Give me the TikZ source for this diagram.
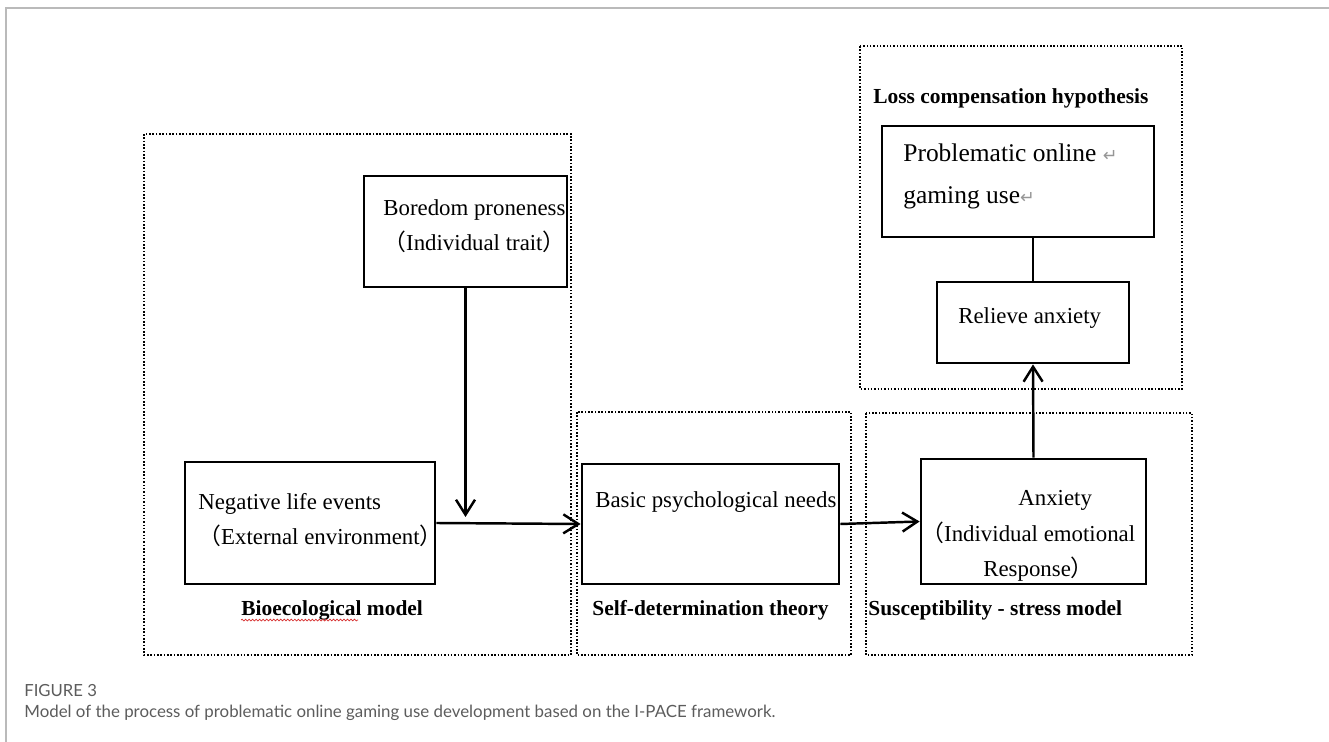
\documentclass[tikz,border=0pt]{standalone}
\usepackage{fontspec}
\setmainfont{Liberation Serif}
\newfontfamily\capfont{Lato}
\newfontfamily\cjkfont{Noto Sans CJK SC}
\newfontfamily\symfont{DejaVu Sans}
\usetikzlibrary{arrows.meta,decorations.pathmorphing}
\definecolor{FrameGray}{RGB}{186,186,186}
\definecolor{CapGray}{RGB}{92,92,92}
\definecolor{MarkGray}{RGB}{150,150,150}
\definecolor{SpellRed}{RGB}{214,48,48}
\newcommand{\fwl}{{\cjkfont （}}
\newcommand{\fwr}{{\cjkfont ）}}
\newcommand{\retmark}{{\symfont\fontsize{10}{10}\selectfont\color{MarkGray}↵}}
\tikzset{
  flow/.style={-{Straight Barb[length=3mm,width=3.8mm]},line width=1.4pt},
  link/.style={line width=1.4pt},
  box/.style={draw,line width=1.6pt,inner sep=0pt},
  zone/.style={line width=1.4pt,dash pattern=on 0.9pt off 1pt},
  txt/.style={font=\fontsize{13}{20}\selectfont,align=left,anchor=west,inner sep=0pt},
  zonetitle/.style={font=\fontsize{12.2}{14}\selectfont\bfseries,anchor=west,inner sep=0pt},
  spell/.style={draw=SpellRed,line width=0.4pt,decorate,
    decoration={snake,amplitude=0.5pt,segment length=2pt}},
  captitle/.style={font=\capfont\fontsize{9.5}{11}\selectfont,text=CapGray,anchor=west,inner sep=0pt},
  captext/.style={font=\capfont\fontsize{9.6}{12}\selectfont,text=CapGray,anchor=west,inner sep=0pt}
}
\begin{document}
\begin{tikzpicture}[x=0.02cm,y=-0.02cm]
  \useasboundingbox (0,0) rectangle (1329,742);
  % page frame
  \draw[FrameGray,line width=1.3pt] (1329,8) -- (6,8) -- (6,742);

  % dotted zones
  \draw[zone] (144,134) rectangle (571,655);
  \draw[zone] (577,412) rectangle (851,655);
  \draw[zone] (866,413) rectangle (1192,655);
  \draw[zone] (860,46) rectangle (1182,389);

  \node[zonetitle] (biolbl) at (241,610) {Bioecological model};
  \node[zonetitle] (sdtlbl) at (592,610) {Self-determination theory};
  \node[zonetitle] (suslbl) at (868,610) {Susceptibility - stress model};
  \node[zonetitle] (losslbl) at (873,98) {Loss compensation hypothesis};
  \draw[spell] (biolbl.base west) ++(0,5) -- ++(117,0);

  % boxes
  \node[box,minimum width=4.06cm,minimum height=2.22cm] (bored) at (465.5,231.5) {};
  \node[box,minimum width=5cm,minimum height=2.44cm] (neg) at (310,523) {};
  \node[box,minimum width=5.14cm,minimum height=2.4cm] (basic) at (710.5,524) {};
  \node[box,minimum width=4.5cm,minimum height=2.5cm] (anx) at (1033.5,521.5) {};
  \node[box,minimum width=3.84cm,minimum height=1.62cm] (relieve) at (1033,322.5) {};
  \node[box,minimum width=5.44cm,minimum height=2.22cm] (prob) at (1018,181.5) {};

  % box texts
  \node[txt] (boredtxt) at (383,226) {Boredom proneness\\\fwl Individual trait\fwr};
  \node[txt] (negtxt) at (198,520) {Negative life events\\\fwl External environment\fwr};
  \node[txt] (basictxt) at (595,502) {Basic psychological needs};
  \node[txt] (anxtxt) at (921,536) {\hspace*{1.94cm}Anxiety\\\fwl Individual emotional\\\hspace*{1.24cm}Response\fwr};
  \node[txt] (relievetxt) at (958,318) {Relieve anxiety};
  \node[txt,font=\fontsize{14.5}{24}\selectfont] (probtxt) at (903,176)
    {Problematic online \retmark\\gaming use\retmark};

  % connectors
  \coordinate (join) at (465.5,517);
  \draw[flow] (bored.south) -- (join);
  \draw[flow] (neg.east) -- (basic.west);
  \draw[flow] (basic.east) -- (anx.west);
  \draw[flow] (anx.north) -- (relieve.south);
  \draw[link] (relieve.north |- prob.south) -- (relieve.north);

  % caption
  \node[captitle] (figno) at (24,691) {FIGURE 3};
  \node[captext] (cap) at (24,713) {Model of the process of problematic online gaming use development based on the I-PACE framework.};
\end{tikzpicture}
\end{document}
